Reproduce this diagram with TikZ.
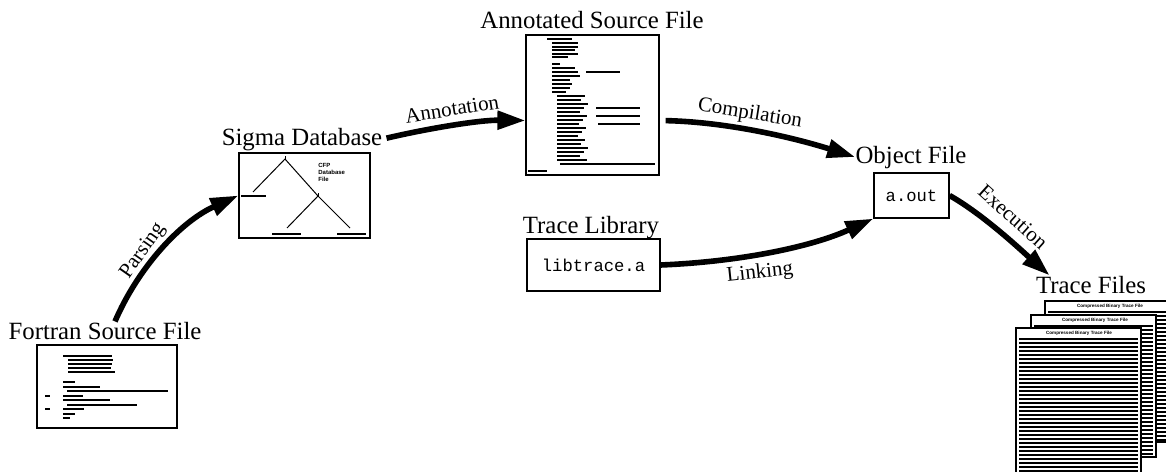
\documentclass[tikz,border=0pt]{standalone}
\usepackage{fontspec}
\setmainfont{Liberation Serif}
\setsansfont{Liberation Sans}
\setmonofont{Liberation Mono}
\usetikzlibrary{arrows.meta}

\tikzset{
  title/.style={font=\fontsize{12.4}{14}\selectfont, anchor=base, inner sep=0pt},
  steplabel/.style={font=\fontsize{10.5}{12}\selectfont, inner sep=0pt},
  filebox/.style={draw, line width=0.6pt, fill=white, inner sep=0pt},
  flow/.style={line width=2.8pt, -{Triangle[length=14pt,width=9pt]}},
  codeline/.style={line width=1.4pt},
  tiny/.style={font=\sffamily\bfseries\fontsize{3}{3.4}\selectfont, inner sep=0pt, align=left},
}

\begin{document}
\begin{tikzpicture}[x=0.5pt,y=-0.5pt]
\useasboundingbox (0,0) rectangle (1166,471);

% the files
\node[filebox, minimum width=70pt, minimum height=41.5pt] (fortran) at (107,386.5) {};
\node[filebox, minimum width=65.5pt, minimum height=42.5pt] (sigma) at (304.5,195.5) {};
\node[filebox, minimum width=66.5pt, minimum height=70pt] (annot) at (592.5,105) {};
\node[filebox, minimum width=37.5pt, minimum height=22.5pt,
      font=\ttfamily\fontsize{8.6}{10}\selectfont] (aout) at (911.5,195.5) {a.out};
\node[filebox, minimum width=66.5pt, minimum height=26pt,
      font=\ttfamily\fontsize{8.6}{10}\selectfont] (libtrace) at (593.5,265) {libtrace.a};

\node[title] (fortrantitle) at (105,339) {Fortran Source File};
\node[title] (sigmatitle) at (302,145) {Sigma Database};
\node[title] (annottitle) at (592,28) {Annotated Source File};
\node[title] (objtitle) at (911,163) {Object File};
\node[title] (libtitle) at (591,233) {Trace Library};
\node[title] (tracetitle) at (1091,293) {Trace Files};

% fortran source
\foreach \xa/\xb/\yy in {63/112/356, 68/113/360, 68/112/364, 68/111/368, 68/115/372,
    63/75/382, 63/100/387, 67/168/391, 45/50/396, 63/83/396, 63/110/400,
    67/137/405, 45/50/409, 63/84/409, 63/75/414, 63/70/418}
  \draw[codeline] (\xa,\yy) -- (\xb,\yy);

% sigma tree
\coordinate (root) at (285,159);
\coordinate (inner) at (318,196);
\draw[line width=0.5pt] (253,192) -- (root) -- (inner) -- (287,228);
\draw[line width=0.5pt] (inner) -- (350,228);
\draw[line width=0.5pt] (root) -- ++(0,-3);
\draw[line width=0.5pt] (inner) -- ++(0,-3);
\foreach \xa/\xb/\yy in {241/266/196, 272/301/234, 337/366/234}
  \draw[line width=0.9pt] (\xa,\yy) -- (\xb,\yy);
\node[tiny, anchor=north west] (cfp) at (318,163) {CFP\\Database\\File};

% annotated source
\foreach \xa/\xb/\yy in {547/572/39, 552/578/43, 552/578/47, 552/575/50, 552/578/54, 552/568/57,
    552/560/64, 552/575/68, 552/578/72, 586/620/72, 552/580/76, 552/570/80, 552/572/84,
    552/570/88, 552/566/92, 596/640/108, 596/640/116, 598/640/124, 560/655/164, 528/547/171}
  \draw[codeline] (\xa,\yy) -- (\xb,\yy);
\foreach \yy [count=\i] in {96,100,...,160}
  \draw[codeline] (557,\yy) -- ({578+mod(\i*7,11)},\yy);

% trace files
\foreach \pl/\ptop/\pr/\pbot/\ph in {1045/301/1172/442/1110, 1031/315/1156/457/1095, 1016/328/1141/480/1079} {
  \draw[filebox] (\pl,\ptop) rectangle (\pr,\pbot);
  \node[tiny, font=\sffamily\bfseries\fontsize{2.3}{2.6}\selectfont] at (\ph,\ptop+5.5) {Compressed Binary Trace File};
  \draw[line width=0.8pt] (\pl+3,\ptop+11) -- (\pr-3,\ptop+11);
  \begin{scope}
    \clip (\pl,\ptop+13) rectangle (\pr,\pbot-2);
    \foreach \yy in {15,19,...,175}
      \draw[line width=1.4pt] (\pl+3,\ptop+\yy) -- (\pr-3,\ptop+\yy);
  \end{scope}
}

% arrows
\draw[flow] ([xshift=5pt]fortrantitle.north) .. controls (138,268) and (180,222) .. (sigma.west);
\draw[flow, shorten <=2pt] (sigmatitle.east) .. controls (430,128) and (480,120) .. (annot.193);
\draw[flow, shorten <=3pt] (annot.-13) .. controls (730,122) and (798,139) .. (objtitle.west);
\draw[flow] (libtrace.east) .. controls (735,262) and (809,248) .. (aout.south west);
\draw[flow] (aout.east) .. controls (984,215) and (1022,251) .. ([xshift=7pt]tracetitle.north west);

\node[steplabel, rotate=55] (parsing) at (143,251) {Parsing};
\node[steplabel, rotate=9] (annotation) at (452,109) {Annotation};
\node[steplabel, rotate=-9] (compilation) at (750,114) {Compilation};
\node[steplabel, rotate=6] (linking) at (760,273) {Linking};
\node[steplabel, rotate=-42] (execution) at (1013,217) {Execution};
\end{tikzpicture}
\end{document}
